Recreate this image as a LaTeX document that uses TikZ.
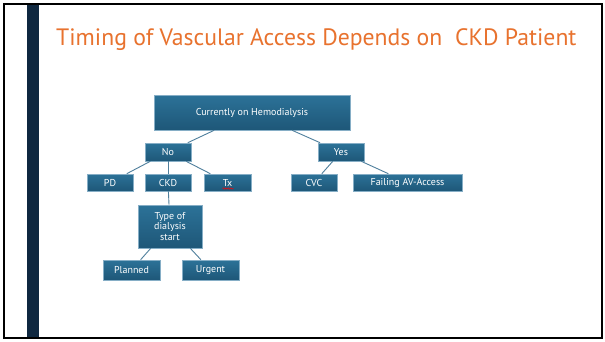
\documentclass[tikz,border=0pt]{standalone}
\usepackage{fontspec}
\setmainfont{PT Sans}
\usetikzlibrary{decorations.pathmorphing}
\definecolor{navy}{HTML}{0F2840}
\definecolor{ttl}{HTML}{E8722E}
\definecolor{boxtop}{HTML}{2C7298}
\definecolor{boxbot}{HTML}{1E5778}
\definecolor{boxline}{HTML}{86AEC6}
\definecolor{conn}{HTML}{4F7F9C}
\begin{document}
\begin{tikzpicture}[x=1pt,y=-1pt,
  box/.style={rectangle, top color=boxtop, bottom color=boxbot, draw=boxline, line width=0.6pt,
    text=white, font=\fontsize{10}{10.5}\selectfont, inner sep=1pt, align=center},
  conn/.style={draw=conn, line width=0.9pt}]
\useasboundingbox (0,0) rectangle (605,341);
\fill[white] (0,0) rectangle (605,341);
\fill[navy] (27,4) rectangle (39,338);
\draw[black, line width=2pt] (4,4) rectangle (602,338);
\node[anchor=base west, text=ttl, font=\fontsize{23.7}{26}\selectfont, inner sep=0pt] (title) at (56,45)
  {Timing of Vascular Access Depends on\ \ CKD Patient};
% tree
\node[box, minimum width=196pt, minimum height=35pt] (hd) at (252,112.5){Currently on Hemodialysis};
\node[box, minimum width=46pt, minimum height=18pt] (no) at (168,152){No};
\node[box, minimum width=46pt, minimum height=18pt] (yes) at (341,152){Yes};
\node[box, minimum width=46pt, minimum height=17pt] (pd) at (110,182.5){PD};
\node[box, minimum width=46pt, minimum height=17pt] (ckd) at (168,182.5){CKD};
\node[box, minimum width=47pt, minimum height=17pt] (tx) at (227.5,182.5){Tx};
\node[box, minimum width=46pt, minimum height=17pt] (cvc) at (314,182.5){CVC};
\node[box, minimum width=109pt, minimum height=17pt] (fail) at (407.5,182.5){Failing AV-Access};
\node[box, minimum width=64pt, minimum height=43pt] (type) at (170,226.5){Type of\\dialysis\\start};
\node[box, minimum width=57pt, minimum height=20pt] (plan) at (131.5,270){Planned};
\node[box, minimum width=57pt, minimum height=20pt] (urg) at (210.5,270){Urgent};
\draw[conn] (hd) -- (no);
\draw[conn] (hd) -- (yes);
\draw[conn] (no) -- (pd);
\draw[conn] (no) -- (ckd);
\draw[conn] (no) -- (tx);
\draw[conn] (yes) -- (cvc);
\draw[conn] (yes) -- (fail);
\draw[conn] (ckd) -- (type);
\draw[conn] (type) -- (plan);
\draw[conn] (type) -- (urg);
\draw[red, line width=0.5pt, decorate, decoration={snake, amplitude=0.7pt, segment length=2.5pt}]
  ([xshift=-5pt,yshift=-6pt]tx.center) -- ([xshift=6pt,yshift=-6pt]tx.center);
\end{tikzpicture}
\end{document}
